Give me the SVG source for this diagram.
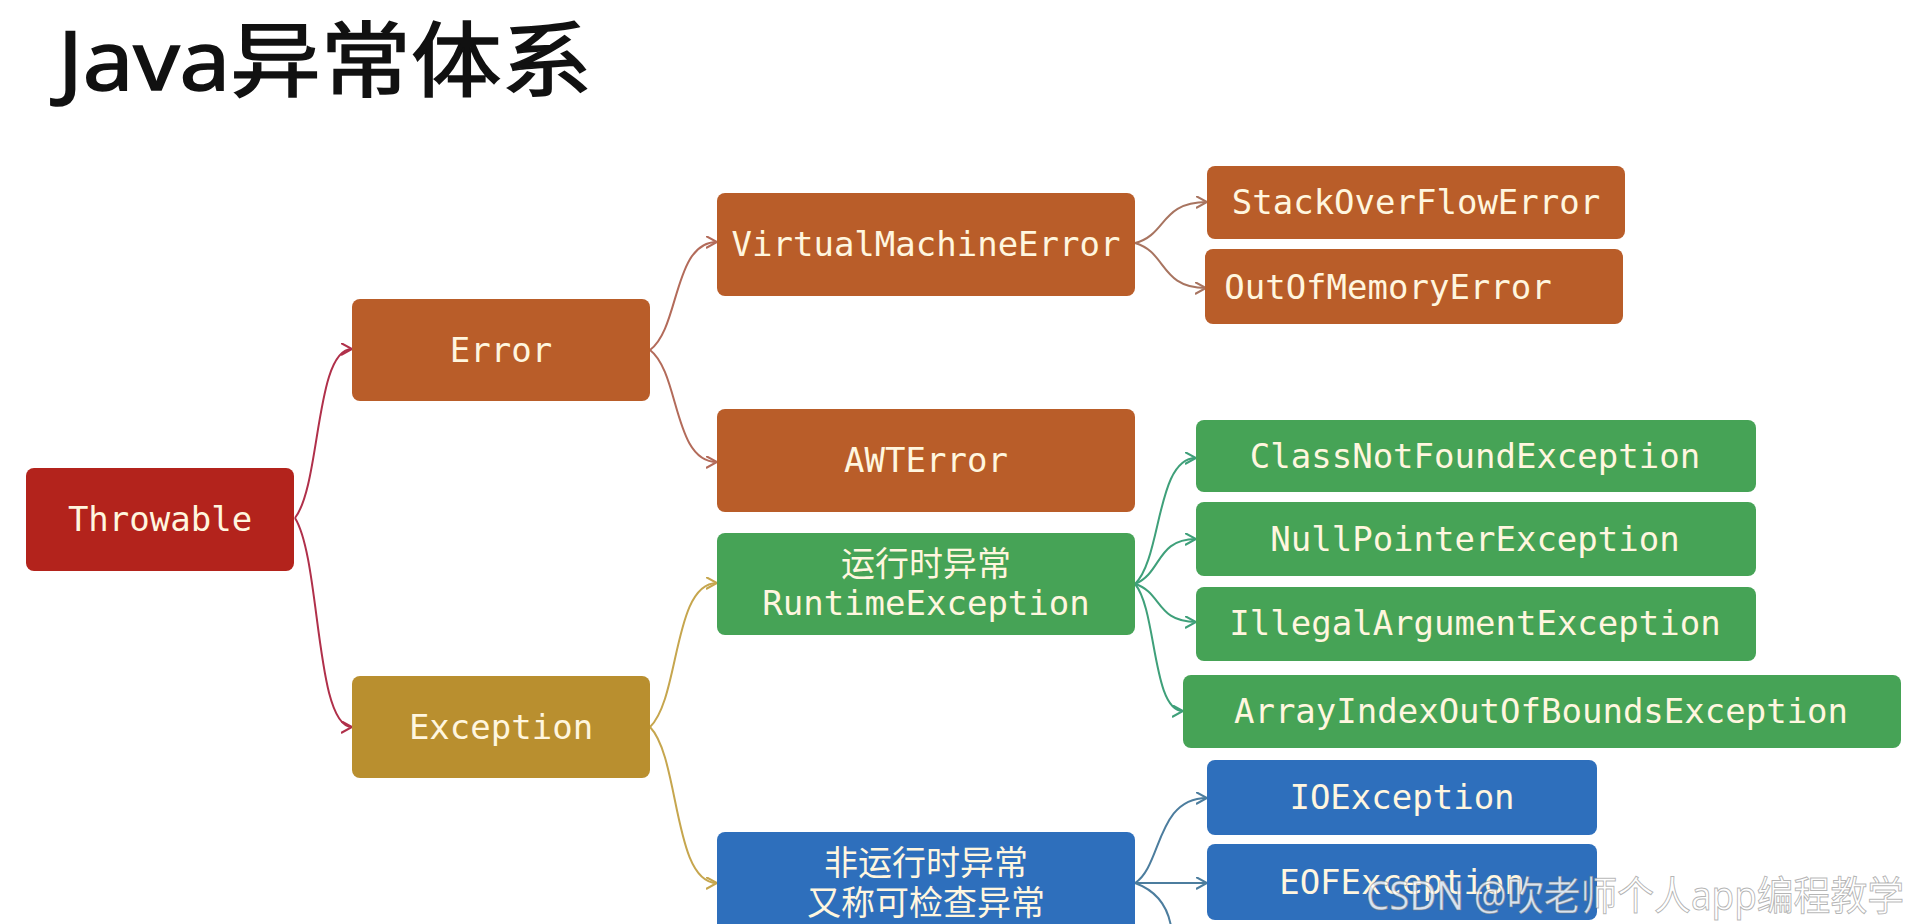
<svg xmlns="http://www.w3.org/2000/svg" width="1916" height="924" viewBox="0 0 1916 924">
<style>
  .box{rx:8;ry:8;}
  .red{fill:#B3231C;}
  .org{fill:#B95D29;}
  .gold{fill:#B98F2F;}
  .grn{fill:#46A356;}
  .blu{fill:#2E6FBC;}
  .lbl{font-family:"DejaVu Sans Mono","Noto Sans CJK SC",monospace;font-size:34px;fill:#FFF6DF;text-anchor:middle;dominant-baseline:central;}
  .title{font-family:"Noto Sans","Noto Sans CJK SC",sans-serif;font-size:82px;font-weight:normal;fill:#111;stroke:#111;stroke-width:1.6;}
  .c{fill:none;stroke-width:2;}
  .wm{font-family:"Noto Sans","Noto Sans CJK SC",sans-serif;font-size:40px;fill:#ffffff;fill-opacity:.82;stroke:#777;stroke-opacity:.55;stroke-width:1;}
</style>
<defs>
  <marker id="mRed" markerUnits="userSpaceOnUse" markerWidth="14" markerHeight="14" refX="11" refY="6" orient="auto"><path d="M0,0 L11,6 L0,12" fill="none" stroke="#B0304A" stroke-width="2"/></marker>
  <marker id="mOrg" markerUnits="userSpaceOnUse" markerWidth="14" markerHeight="14" refX="11" refY="6" orient="auto"><path d="M0,0 L11,6 L0,12" fill="none" stroke="#B36B5A" stroke-width="2"/></marker>
  <marker id="mBrn" markerUnits="userSpaceOnUse" markerWidth="14" markerHeight="14" refX="11" refY="6" orient="auto"><path d="M0,0 L11,6 L0,12" fill="none" stroke="#A87460" stroke-width="2"/></marker>
  <marker id="mGld" markerUnits="userSpaceOnUse" markerWidth="14" markerHeight="14" refX="11" refY="6" orient="auto"><path d="M0,0 L11,6 L0,12" fill="none" stroke="#C6A64E" stroke-width="2"/></marker>
  <marker id="mGrn" markerUnits="userSpaceOnUse" markerWidth="14" markerHeight="14" refX="11" refY="6" orient="auto"><path d="M0,0 L11,6 L0,12" fill="none" stroke="#3FA07A" stroke-width="2"/></marker>
  <marker id="mBlu" markerUnits="userSpaceOnUse" markerWidth="14" markerHeight="14" refX="11" refY="6" orient="auto"><path d="M0,0 L11,6 L0,12" fill="none" stroke="#4C7D9E" stroke-width="2"/></marker>
</defs>
<rect width="1916" height="924" fill="#ffffff"/>
<text class="title" x="58" y="90" textLength="534" lengthAdjust="spacingAndGlyphs">Java异常体系</text>

<g id="connectors">
  <path class="c" stroke="#B0304A" marker-end="url(#mRed)" d="M295,518 C321,484 315,349 352,349"/>
  <path class="c" stroke="#B0304A" marker-end="url(#mRed)" d="M295,518 C321,560 315,727 352,727"/>
  <path class="c" stroke="#B36B5A" marker-end="url(#mOrg)" d="M650,350 C680,328 673,242 717,242"/>
  <path class="c" stroke="#B36B5A" marker-end="url(#mOrg)" d="M650,350 C680,373 673,462 717,462"/>
  <path class="c" stroke="#A87460" marker-end="url(#mBrn)" d="M1135,243 C1167,235 1160,202 1207,202"/>
  <path class="c" stroke="#A87460" marker-end="url(#mBrn)" d="M1135,243 C1167,252 1160,288 1206,288"/>
  <path class="c" stroke="#C6A64E" marker-end="url(#mGld)" d="M650,727 C680,698 673,583 717,583"/>
  <path class="c" stroke="#C6A64E" marker-end="url(#mGld)" d="M650,727 C680,758 673,883 717,883"/>
  <path class="c" stroke="#3FA07A" marker-end="url(#mGrn)" d="M1135,584 C1162,558 1156,458 1196,458"/>
  <path class="c" stroke="#3FA07A" marker-end="url(#mGrn)" d="M1135,584 C1162,573 1156,539 1196,539"/>
  <path class="c" stroke="#3FA07A" marker-end="url(#mGrn)" d="M1135,584 C1162,592 1156,622 1196,622"/>
  <path class="c" stroke="#3FA07A" marker-end="url(#mGrn)" d="M1135,584 C1157,610 1152,711 1183,711"/>
  <path class="c" stroke="#4C7D9E" marker-end="url(#mBlu)" d="M1135,883 C1162,866 1156,798 1207,798"/>
  <path class="c" stroke="#4C7D9E" marker-end="url(#mBlu)" d="M1135,883 L1207,883"/>
  <path class="c" stroke="#4C7D9E" d="M1135,883 C1160,892 1170,910 1172,934"/>
</g>

<g id="throwable"><rect class="box red" x="26" y="468" width="268" height="103"/><text class="lbl" x="160" y="519">Throwable</text></g>
<g id="error"><rect class="box org" x="352" y="299" width="298" height="102"/><text class="lbl" x="501" y="350">Error</text></g>
<g id="exception"><rect class="box gold" x="352" y="676" width="298" height="102"/><text class="lbl" x="501" y="727">Exception</text></g>
<g id="vme"><rect class="box org" x="717" y="193" width="418" height="103"/><text class="lbl" x="926" y="244">VirtualMachineError</text></g>
<g id="awt"><rect class="box org" x="717" y="409" width="418" height="103"/><text class="lbl" x="926" y="460">AWTError</text></g>
<g id="runtime"><rect class="box grn" x="717" y="533" width="418" height="102"/><text class="lbl" x="926" y="564">运行时异常</text><text class="lbl" x="926" y="603">RuntimeException</text></g>
<g id="checked"><rect class="box blu" x="717" y="832" width="418" height="103"/><text class="lbl" x="926" y="863">非运行时异常</text><text class="lbl" x="926" y="903">又称可检查异常</text></g>
<g id="stackoverflow"><rect class="box org" x="1207" y="166" width="418" height="73"/><text class="lbl" x="1416" y="202">StackOverFlowError</text></g>
<g id="oom"><rect class="box org" x="1205" y="249" width="418" height="75"/><text class="lbl" x="1388" y="287">OutOfMemoryError</text></g>
<g id="classnotfound"><rect class="box grn" x="1196" y="420" width="560" height="72"/><text class="lbl" x="1475" y="456">ClassNotFoundException</text></g>
<g id="nullpointer"><rect class="box grn" x="1196" y="502" width="560" height="74"/><text class="lbl" x="1475" y="539">NullPointerException</text></g>
<g id="illegalarg"><rect class="box grn" x="1196" y="587" width="560" height="74"/><text class="lbl" x="1475" y="623">IllegalArgumentException</text></g>
<g id="arrayindex"><rect class="box grn" x="1183" y="675" width="718" height="73"/><text class="lbl" x="1541" y="711">ArrayIndexOutOfBoundsException</text></g>
<g id="ioexception"><rect class="box blu" x="1207" y="760" width="390" height="75"/><text class="lbl" x="1402" y="797">IOException</text></g>
<g id="eofexception"><rect class="box blu" x="1207" y="844" width="390" height="76"/><text class="lbl" x="1402" y="882">EOFException</text></g>

<text class="wm" x="1366" y="910" textLength="538" lengthAdjust="spacingAndGlyphs">CSDN @吹老师个人app编程教学</text>
</svg>
